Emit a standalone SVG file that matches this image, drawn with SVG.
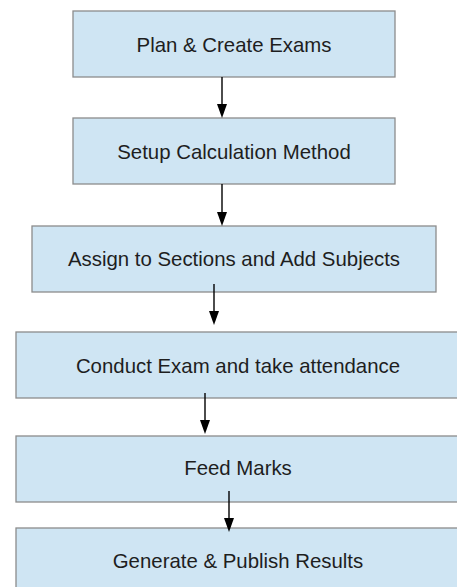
<svg xmlns="http://www.w3.org/2000/svg" width="457" height="587" viewBox="0 0 457 587">
<style>
.box{fill:#cfe5f3;stroke:#8c8c8c;stroke-width:1.3}
.lbl{font-family:"Liberation Sans",Arial,sans-serif;font-size:20.4px;fill:#1e1e1e;text-anchor:middle}
.ln{stroke:#000;stroke-width:1.4}
.hd{fill:#000}
</style>
<rect width="457" height="587" fill="#fff"/>
<g id="n1"><rect class="box" x="73" y="11" width="322" height="66"/><text class="lbl" x="234" y="51.5">Plan &amp; Create Exams</text></g>
<g id="n2"><rect class="box" x="73" y="118" width="322" height="66"/><text class="lbl" x="234" y="158.5">Setup Calculation Method</text></g>
<g id="n3"><rect class="box" x="32" y="226" width="404" height="66"/><text class="lbl" x="234" y="266">Assign to Sections and Add Subjects</text></g>
<g id="n4"><rect class="box" x="16" y="332" width="450" height="66"/><text class="lbl" x="238" y="372.5">Conduct Exam and take attendance</text></g>
<g id="n5"><rect class="box" x="16" y="436" width="450" height="66"/><text class="lbl" x="238" y="475">Feed Marks</text></g>
<g id="n6"><rect class="box" x="16" y="528" width="450" height="70"/><text class="lbl" x="238" y="568">Generate &amp; Publish Results</text></g>
<g id="connectors">
<line class="ln" x1="222" y1="77" x2="222" y2="104"/><path class="hd" d="M217,104 L227,104 L222,118 Z"/>
<line class="ln" x1="222" y1="184" x2="222" y2="212"/><path class="hd" d="M217,212 L227,212 L222,226 Z"/>
<line class="ln" x1="214" y1="284" x2="214" y2="312"/><path class="hd" d="M209,311 L219,311 L214,325 Z"/>
<line class="ln" x1="205" y1="393" x2="205" y2="420"/><path class="hd" d="M200,420 L210,420 L205,434 Z"/>
<line class="ln" x1="229" y1="491" x2="229" y2="518"/><path class="hd" d="M224,518 L234,518 L229,532 Z"/>
</g>
</svg>
